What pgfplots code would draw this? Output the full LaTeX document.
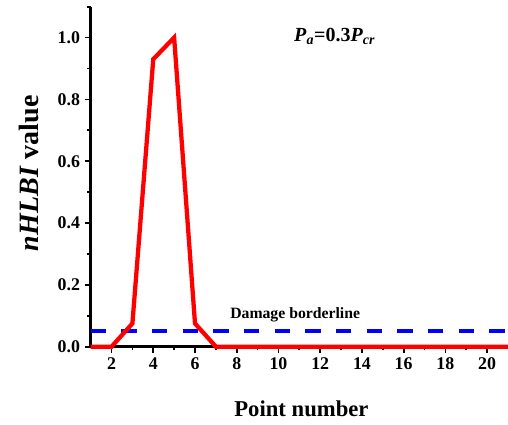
\documentclass[border=0pt]{standalone}
\usepackage{fontspec}
\setmainfont{Liberation Serif}
\usepackage{pgfplots}
\pgfplotsset{compat=1.18}
\begin{document}
\begin{tikzpicture}
  \begin{axis}[
      name=main,
      scale only axis,
      width=313pt, height=255pt,
      xmin=1, xmax=21, ymin=0, ymax=1.1,
      axis lines=left,
      axis line style={line width=2.4pt, -},
      xtick={2,4,...,20},
      ytick={0,0.2,...,1.0},
      minor x tick num=1,
      minor y tick num=1,
      extra y ticks={1.1}, extra y tick labels={},
      extra y tick style={major tick length=2.5pt},
      tick align=outside,
      tick style={line width=1.3pt, black},
      major tick length=4.5pt,
      minor tick length=2.5pt,
      /pgf/number format/assume math mode=true,
      /pgf/number format/.cd, fixed, fixed zerofill, precision=1, /pgfplots/.cd,
      xticklabel style={/pgf/number format/precision=0, /pgf/number format/fixed zerofill=false},
      tick label style={font=\fontsize{13.4}{15}\selectfont\bfseries},
      xlabel={Point number},
      ylabel={\textit{nHLBI} value},
      xlabel style={font=\fontsize{17}{20}\selectfont\bfseries,
        at={(axis description cs:0.505,0)}, anchor=base, yshift=-52pt},
      ylabel style={font=\fontsize{21}{24}\selectfont\bfseries,
        at={(axis description cs:-0.147,0.51)}, anchor=center},
      clip=false,
    ]
    \addplot[blue, line width=3pt, dash pattern=on 11.5pt off 11.5pt]
      coordinates {(1,0.05) (21,0.05)};
    \addplot[red, line width=3.2pt, line join=miter]
      coordinates {
        (1,0) (2,0) (3,0.075) (4,0.93) (5,1.0) (6,0.075) (7,0)
        (8,0) (9,0) (10,0) (11,0) (12,0) (13,0) (14,0) (15,0)
        (16,0) (17,0) (18,0) (19,0) (20,0) (21,0)
      };
    \node[font=\fontsize{11.8}{13}\selectfont\bfseries, anchor=base] at (axis cs:10.8,0.09) {Damage borderline};
    \node[font=\fontsize{15}{18}\selectfont\bfseries] at (axis cs:12.7,1.005) {\textit{P}\textsubscript{\textit{a}}=0.3\textit{P}\textsubscript{\textit{cr}}};
  \end{axis}
  \pgfresetboundingbox
  \path[use as bounding box] ([shift={(-68pt,-58.5pt)}]main.south west) rectangle ([shift={(0pt,5pt)}]main.north east);
\end{tikzpicture}
\end{document}
